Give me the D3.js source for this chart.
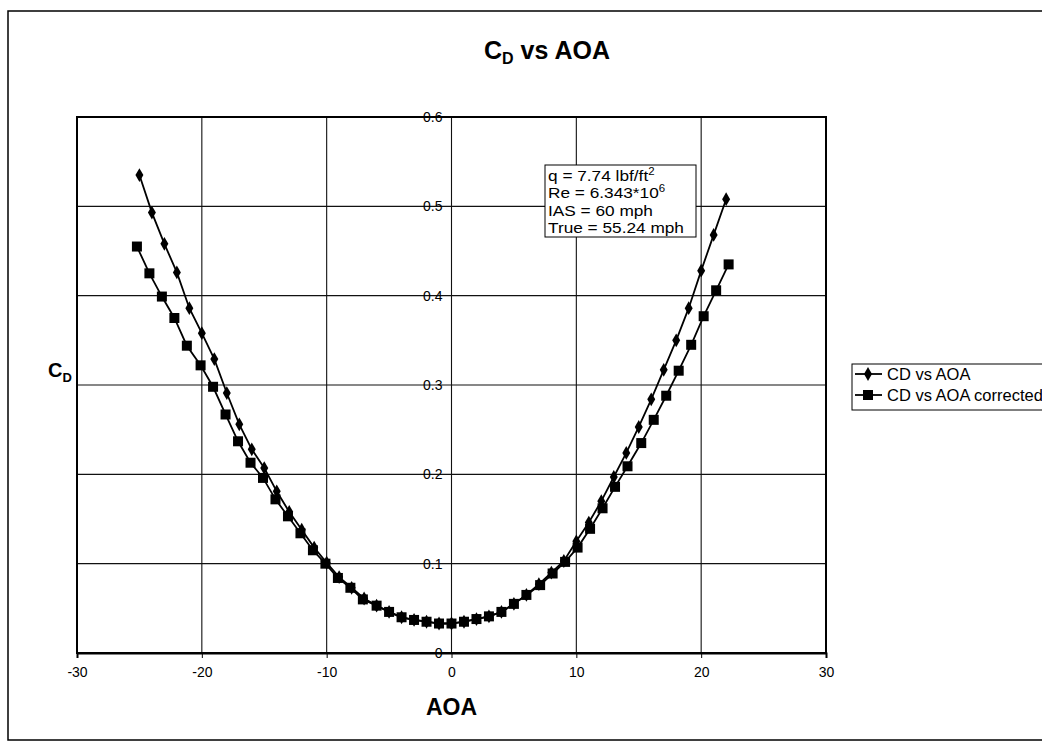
<!DOCTYPE html>
<html><head><meta charset="utf-8">
<script src="https://cdn.jsdelivr.net/npm/d3@7"></script>
<style>body{margin:0;background:#fff} svg{display:block;font-family:"Liberation Sans",Arial,Helvetica,sans-serif}</style>
</head><body><svg id="c" width="1042" height="750"></svg>
<script>
// ---- data ----
const aoa = [-25,-24,-23,-22,-21,-20,-19,-18,-17,-16,-15,-14,-13,-12,-11,-10,-9,-8,-7,-6,-5,-4,-3,-2,-1,0,1,2,3,4,5,6,7,8,9,10,11,12,13,14,15,16,17,18,19,20,21,22];
const cd = [0.535,0.493,0.458,0.426,0.386,0.358,0.329,0.291,0.256,0.228,0.207,0.181,0.158,0.138,0.118,0.101,0.085,0.073,0.061,0.053,0.046,0.040,0.037,0.035,0.033,0.033,0.035,0.038,0.041,0.046,0.055,0.065,0.077,0.090,0.103,0.125,0.146,0.170,0.197,0.224,0.253,0.284,0.317,0.350,0.386,0.428,0.468,0.508];
const aoaCorr = [-25.2,-24.2,-23.2,-22.2,-21.2,-20.1,-19.1,-18.1,-17.1,-16.1,-15.1,-14.1,-13.1,-12.1,-11.1,-10.1,-9.1,-8.1,-7.1,-6.0,-5.0,-4.0,-3.0,-2.0,-1.0,0.0,1.0,2.0,3.0,4.0,5.0,6.0,7.1,8.1,9.1,10.1,11.1,12.1,13.1,14.1,15.2,16.2,17.2,18.2,19.2,20.2,21.2,22.2];
const cdCorr = [0.455,0.425,0.399,0.375,0.344,0.322,0.298,0.267,0.237,0.213,0.196,0.172,0.153,0.134,0.115,0.100,0.084,0.073,0.060,0.053,0.046,0.040,0.037,0.035,0.033,0.033,0.035,0.038,0.041,0.046,0.055,0.065,0.076,0.089,0.102,0.118,0.139,0.162,0.186,0.209,0.235,0.261,0.288,0.316,0.345,0.377,0.406,0.435];
const xTicks = [-30,-20,-10,0,10,20,30];
const xTickLabels = ["-30","-20","-10","0","10","20","30"];
const yTicks = [0,0.1,0.2,0.3,0.4,0.5,0.6];
const yTickLabels = ["0","0.1","0.2","0.3","0.4","0.5","0.6"];
const seriesNames = ["CD vs AOA","CD vs AOA corrected"];
const noteLines = [["q = 7.74 lbf/ft","2"],["Re = 6.343*10","6"],["IAS = 60 mph",""],["True = 55.24 mph",""]];

// ---- layout ----
const svg = d3.select("#c");
const L = 77, R = 826, T = 117, B = 653;
const x = d3.scaleLinear().domain([-30,30]).range([L,R]);
const y = d3.scaleLinear().domain([0,0.6]).range([B,T]);
const FF = "Liberation Sans, Arial, sans-serif";

// outer frame (chart area continues past the right edge)
svg.append("rect").attr("x",8).attr("y",11).attr("width",1080).attr("height",729)
  .attr("fill","none").attr("stroke","#000").attr("stroke-width",1.5);

// gridlines
const g = svg.append("g");
g.selectAll("line.h").data(yTicks.filter(v=>v>0&&v<0.6)).enter().append("line")
  .attr("x1",L).attr("x2",R).attr("y1",d=>y(d)).attr("y2",d=>y(d))
  .attr("stroke","#111").attr("stroke-width",1.1);
g.selectAll("line.v").data(xTicks.filter(v=>v>-30&&v<30)).enter().append("line")
  .attr("y1",T).attr("y2",B).attr("x1",d=>x(d)).attr("x2",d=>x(d))
  .attr("stroke","#111").attr("stroke-width",1.1);

// plot border
svg.append("rect").attr("x",L).attr("y",T).attr("width",R-L).attr("height",B-T)
  .attr("fill","none").attr("stroke","#000").attr("stroke-width",2);

// x axis
const xa = svg.append("g").attr("transform",`translate(0,${B})`)
  .call(d3.axisBottom(x).tickValues(xTicks).tickSize(5).tickPadding(9).tickFormat((d,i)=>xTickLabels[i]));
xa.select(".domain").attr("stroke-width",2);
xa.selectAll("text").attr("font-size",14).attr("font-family",FF);

// y axis at x=0
const ya = svg.append("g").attr("transform",`translate(${x(0)},0)`)
  .call(d3.axisLeft(y).tickValues(yTicks).tickSize(0).tickPadding(9).tickFormat((d,i)=>yTickLabels[i]));
ya.select(".domain").remove();
ya.selectAll("text").attr("font-size",14).attr("font-family",FF);

// series
const line = d3.line().x(d=>x(d[0])).y(d=>y(d[1]));
const s1 = aoa.map((a,i)=>[a,cd[i]]);
const s2 = aoaCorr.map((a,i)=>[a,cdCorr[i]]);
svg.append("path").datum(s2).attr("d",line).attr("fill","none").attr("stroke","#000").attr("stroke-width",1.8);
svg.append("path").datum(s1).attr("d",line).attr("fill","none").attr("stroke","#000").attr("stroke-width",1.8);
svg.selectAll("rect.sq").data(s2).enter().append("rect")
  .attr("x",d=>x(d[0])-5).attr("y",d=>y(d[1])-5).attr("width",10).attr("height",10).attr("fill","#000");
svg.selectAll("path.dm").data(s1).enter().append("path")
  .attr("transform",d=>`translate(${x(d[0])},${y(d[1])})`)
  .attr("d",d3.symbol().type(d3.symbolDiamond).size(55)).attr("fill","#000");

// annotation box
const nb = svg.append("g").attr("transform","translate(545,165)");
nb.append("rect").attr("width",151).attr("height",72).attr("fill","#fff").attr("stroke","#000").attr("stroke-width",1);
const nt = nb.append("g").attr("transform","translate(3,0) scale(1.15,1)");
noteLines.forEach((ln,i)=>{
  const t = nt.append("text").attr("x",0).attr("y",16+i*17.5).attr("font-size",15);
  t.append("tspan").text(ln[0]);
  if (ln[1]) t.append("tspan").attr("dy",-6).attr("font-size",10).text(ln[1]);
});

// title
const tt = svg.append("text").attr("x",547).attr("y",59).attr("text-anchor","middle")
  .attr("font-weight","bold").attr("font-size",25);
tt.append("tspan").text("C");
tt.append("tspan").attr("dy",5).attr("font-size",16).text("D");
tt.append("tspan").attr("dy",-5).text(" vs AOA");

// y title
const yt = svg.append("text").attr("x",48).attr("y",377).attr("font-weight","bold").attr("font-size",20);
yt.append("tspan").text("C");
yt.append("tspan").attr("dy",5).attr("font-size",13).text("D");

// x title
svg.append("text").attr("x",x(0)).attr("y",715).attr("text-anchor","middle")
  .attr("font-weight","bold").attr("font-size",23).text("AOA");

// legend
const lg = svg.append("g").attr("transform","translate(852,364)");
lg.append("rect").attr("width",220).attr("height",46).attr("fill","#fff").attr("stroke","#000").attr("stroke-width",1);
seriesNames.forEach((n,i)=>{
  const yy = 10 + i*21;
  lg.append("line").attr("x1",3).attr("x2",30).attr("y1",yy).attr("y2",yy).attr("stroke","#000").attr("stroke-width",1.8);
  if (i===0) lg.append("path").attr("transform",`translate(16,${yy})`).attr("d",d3.symbol().type(d3.symbolDiamond).size(55)).attr("fill","#000");
  else lg.append("rect").attr("x",11).attr("y",yy-5).attr("width",10).attr("height",10).attr("fill","#000");
  lg.append("text").attr("x",35).attr("y",yy).attr("dy","0.35em").attr("font-size",16.5).text(n);
});
</script></body></html>
